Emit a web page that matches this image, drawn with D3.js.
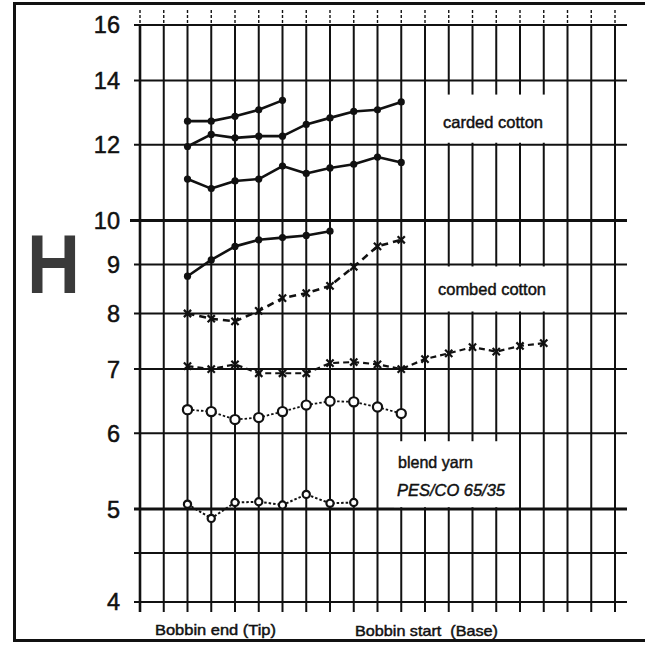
<!DOCTYPE html>
<html>
<head>
<meta charset="utf-8">
<script src="https://cdn.jsdelivr.net/npm/d3@7"></script>
<style>
  html, body { margin: 0; padding: 0; background: #fff; }
  svg { display: block; }
  text { font-family: "Liberation Sans", Arial, Helvetica, sans-serif; fill: #111; }
</style>
</head>
<body>
<svg id="chart" width="645" height="645"></svg>
<script>
// Hairiness H along the bobbin, measured at positions 0..20 from tip to base.
const positionCount = 21;
const yTicks = [4, 5, 6, 7, 8, 9, 10, 12, 14, 16];
const yGrid = [4, 4.5, 5, 6, 7, 8, 9, 10, 12, 14, 16];

// carded cotton (solid lines, filled dots), first point at position 2
const cardedTop = [12.7, 12.7, 12.85, 13.05, 13.35];
const cardedMid = [11.95, 12.3, 12.2, 12.25, 12.25, 12.6, 12.8, 13.0, 13.05, 13.3];
const cardedLow = [11.05, 10.8, 11.0, 11.05, 11.4, 11.2, 11.35, 11.45, 11.65, 11.5];

// combed cotton
const combedSolid = [8.75, 9.1, 9.4, 9.55, 9.6, 9.65, 9.75];
const combedDashed = [8.0, 7.9, 7.85, 8.05, 8.3, 8.4, 8.55, 8.95, 9.4, 9.55];

// blend yarn PES/CO 65/35
const blendCross = [7.05, 7.0, 7.08, 6.93, 6.93, 6.93, 7.1, 7.12, 7.08, 7.0, 7.17, 7.27, 7.38, 7.3, 7.4, 7.45];
const blendRing = [6.35, 6.32, 6.2, 6.23, 6.32, 6.42, 6.48, 6.47, 6.39, 6.29];
const blendLow = [5.06, 4.89, 5.08, 5.09, 5.05, 5.18, 5.07, 5.08];

const firstPosition = 2;

const svg = d3.select("#chart");
const ink = "#111";

const x = d3.scaleLinear().domain([0, positionCount - 1]).range([140, 615]);
const y = d3.scaleLog().domain([4, 16]).range([602, 25]);

// outer frame (left, top, bottom)
svg.append("path")
  .attr("d", "M645,3.5 H14.5 V640.5 H645")
  .attr("fill", "none").attr("stroke", ink).attr("stroke-width", 3);

const grid = svg.append("g");

// vertical grid lines, with dotted stubs above the top line
grid.selectAll("line.v").data(d3.range(positionCount)).join("line")
  .attr("x1", d => x(d)).attr("x2", d => x(d))
  .attr("y1", y(16)).attr("y2", y(4) + 10)
  .attr("stroke", ink).attr("stroke-width", d => d === 0 ? 2.6 : 2);
grid.selectAll("line.vs").data(d3.range(positionCount)).join("line")
  .attr("x1", d => x(d)).attr("x2", d => x(d))
  .attr("y1", y(16) - 15).attr("y2", y(16))
  .attr("stroke", ink).attr("stroke-width", 1.4).attr("stroke-dasharray", "3,2");

// horizontal grid lines
grid.selectAll("line.h").data(yGrid).join("line")
  .attr("x1", d => d === 10 ? 130 : 134).attr("x2", 627)
  .attr("y1", d => y(d)).attr("y2", d => y(d))
  .attr("stroke", ink).attr("stroke-width", d => (d === 10 || d === 5) ? 3 : 2);

// y tick labels
svg.append("g").selectAll("text").data(yTicks).join("text")
  .attr("x", 120).attr("y", d => y(d)).attr("dy", "0.36em")
  .attr("text-anchor", "end").attr("font-size", 23.5)
  .style("stroke", ink).style("stroke-width", 0.5)
  .text(d => d);

// axis symbol
svg.append("text")
  .attr("x", 27).attr("y", 293)
  .attr("font-size", 84).attr("font-weight", "bold")
  .attr("textLength", 53).attr("lengthAdjust", "spacingAndGlyphs")
  .style("fill", "#3a3a3a")
  .text("H");

// white panels behind the group labels
const panels = [
  {x0: 428, x1: 563, y0: y(14) + 14, y1: y(12) - 2},
  {x0: 428, x1: 563, y0: y(9) + 2, y1: y(8) - 2},
  {x0: 394, x1: 515, y0: y(6) + 8, y1: y(5) - 2}
];
svg.append("g").selectAll("rect").data(panels).join("rect")
  .attr("x", d => d.x0).attr("y", d => d.y0)
  .attr("width", d => d.x1 - d.x0).attr("height", d => d.y1 - d.y0)
  .attr("fill", "#fff");

const labels = [
  {t: "carded cotton", x: 443, y: 127.5, w: 100, size: 16.5, style: "normal"},
  {t: "combed cotton", x: 438, y: 294.5, w: 108, size: 16.5, style: "normal"},
  {t: "blend yarn", x: 398, y: 468, w: 75, size: 16.5, style: "normal"},
  {t: "PES/CO 65/35", x: 397, y: 496, w: 108, size: 16.5, style: "italic"},
  {t: "Bobbin end (Tip)", x: 155, y: 635, w: 121, size: 14.5, style: "normal"},
  {t: "Bobbin start  (Base)", x: 355, y: 635.5, w: 143, size: 14.5, style: "normal"}
];
svg.append("g").selectAll("text").data(labels).join("text")
  .attr("x", d => d.x).attr("y", d => d.y)
  .attr("font-size", d => d.size).attr("font-style", d => d.style)
  .attr("textLength", d => d.w).attr("lengthAdjust", "spacingAndGlyphs")
  .style("white-space", "pre")
  .style("stroke", ink).style("stroke-width", 0.45)
  .text(d => d.t);

// data series
const series = [
  {v: cardedTop, dash: null, w: 2.6, mark: "dot"},
  {v: cardedMid, dash: null, w: 2.6, mark: "dot"},
  {v: cardedLow, dash: null, w: 2.6, mark: "dot"},
  {v: combedSolid, dash: null, w: 2.6, mark: "dot"},
  {v: combedDashed, dash: "7,5", w: 2.6, mark: "cross"},
  {v: blendCross, dash: "6,4", w: 2.2, mark: "cross"},
  {v: blendRing, dash: "2.5,2", w: 1.8, mark: "ring"},
  {v: blendLow, dash: "2.5,2", w: 2, mark: "ringSmall"}
];

const line = d3.line().x(d => x(d.i)).y(d => y(d.v));
const plot = svg.append("g");

series.forEach(s => {
  const pts = s.v.map((v, k) => ({i: firstPosition + k, v}));
  plot.append("path").datum(pts)
    .attr("d", line).attr("fill", "none")
    .attr("stroke", ink).attr("stroke-width", s.w)
    .attr("stroke-linejoin", "round")
    .attr("stroke-dasharray", s.dash);

  const g = plot.append("g");
  if (s.mark === "dot") {
    g.selectAll("circle").data(pts).join("circle")
      .attr("cx", d => x(d.i)).attr("cy", d => y(d.v)).attr("r", 3.6)
      .attr("fill", ink);
  } else if (s.mark === "ring" || s.mark === "ringSmall") {
    g.selectAll("circle").data(pts).join("circle")
      .attr("cx", d => x(d.i)).attr("cy", d => y(d.v))
      .attr("r", s.mark === "ring" ? 4.6 : 3.6)
      .attr("fill", "#fff").attr("stroke", ink).attr("stroke-width", 2.2);
  } else {
    g.selectAll("path").data(pts).join("path")
      .attr("d", d => {
        const cx = x(d.i), cy = y(d.v), r = 3.6;
        return `M${cx - r},${cy - r}L${cx + r},${cy + r}M${cx + r},${cy - r}L${cx - r},${cy + r}`;
      })
      .attr("stroke", ink).attr("stroke-width", 2.2).attr("fill", "none");
  }
});
</script>
</body>
</html>
